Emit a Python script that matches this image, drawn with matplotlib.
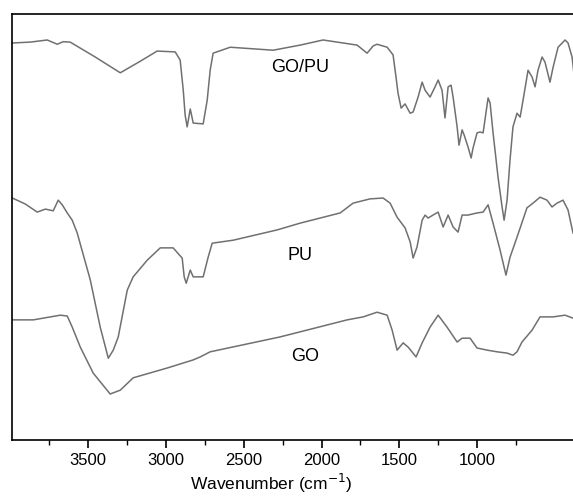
import matplotlib.pyplot as plt

plt.rcParams['font.family'] = ['Liberation Sans', 'DejaVu Sans']

# wavenumber (cm-1) and transmittance (a.u., offset)
gopu_wn = [3988, 3873, 3764, 3699, 3661, 3616, 3455, 3294, 3166, 3057, 2941, 2909,
           2889, 2877, 2864, 2844, 2825, 2761, 2735, 2716, 2697, 2587, 2311, 2137,
           1990, 1771, 1707, 1668, 1643, 1578, 1540, 1521, 1508, 1488, 1463, 1430,
           1411, 1379, 1353, 1334, 1302, 1270, 1250, 1225, 1206, 1186, 1167, 1154,
           1128, 1116, 1096, 1083, 1058, 1038, 1026, 1000, 981, 961, 929, 916, 897,
           865, 839, 826, 807, 788, 769, 743, 723, 704, 672, 646, 627, 608, 582,
           563, 531, 511, 479, 434, 415, 389, 376]
gopu_t = [93.2, 93.4, 93.9, 92.9, 93.5, 93.4, 89.9, 86.2, 88.9, 91.3, 91.1, 89.2,
          82.1, 76.3, 73.5, 77.7, 74.4, 74.2, 79.8, 86.8, 90.8, 92.2, 91.5, 92.7,
          93.9, 92.7, 90.8, 92.5, 92.9, 92.2, 90.4, 85.2, 81.4, 77.9, 78.9, 76.7,
          77.0, 80.5, 84.0, 82.1, 80.5, 82.9, 84.5, 82.1, 75.6, 82.9, 83.3, 80.5,
          73.5, 69.2, 72.8, 71.6, 68.8, 66.2, 68.5, 72.1, 72.3, 72.1, 80.3, 79.1, 72.1,
          61.7, 54.7, 51.6, 56.3, 65.7, 73.5, 76.7, 75.8, 79.8, 86.8, 85.2, 82.9, 86.8,
          89.9, 88.7, 84.0, 87.5, 92.2, 93.9, 93.2, 89.9, 85.7]

pu_wn = [3988, 3905, 3828, 3776, 3725, 3693, 3667, 3635, 3603, 3571, 3487, 3423,
         3371, 3339, 3307, 3249, 3211, 3121, 3037, 2954, 2896, 2883, 2870, 2844,
         2825, 2761, 2729, 2703, 2568, 2287, 2138, 1880, 1797, 1688, 1604, 1559,
         1514, 1463, 1430, 1411, 1386, 1353, 1334, 1315, 1283, 1250, 1218, 1186,
         1154, 1122, 1096, 1058, 1000, 961, 929, 897, 852, 814, 788, 743, 679, 640,
         595, 550, 518, 486, 447, 415, 383]
pu_t = [56.8, 55.4, 53.5, 54.2, 53.8, 56.3, 55.2, 53.3, 51.6, 48.6, 37.6, 26.5,
        19.2, 21.1, 24.2, 35.2, 38.3, 42.2, 45.1, 45.1, 42.7, 38.3, 36.8, 39.9,
        38.3, 38.3, 42.9, 46.2, 46.9, 49.3, 50.9, 53.3, 55.6, 56.6, 56.8, 55.6,
        52.3, 49.8, 46.5, 42.7, 45.3, 51.6, 52.8, 52.1, 52.8, 53.5, 50.0, 52.8,
        50.0, 48.8, 52.8, 52.8, 53.3, 53.5, 55.2, 50.9, 44.6, 38.7, 42.9, 47.6, 54.5, 55.6,
        57.0, 56.3, 54.7, 55.6, 56.3, 54.0, 48.6]

go_wn = [3988, 3853, 3680, 3635, 3603, 3551, 3468, 3359, 3294, 3211, 2992, 2825,
         2780, 2716, 2266, 1835, 1732, 1643, 1578, 1546, 1514, 1475, 1443, 1392,
         1353, 1302, 1250, 1193, 1128, 1096, 1045, 1000, 936, 871, 807, 769, 743,
         711, 646, 595, 511, 434, 383]
go_t = [28.2, 28.2, 29.3, 29.1, 26.5, 21.8, 15.7, 10.8, 11.7, 14.6, 16.9, 18.8,
        19.5, 20.7, 24.2, 28.2, 28.9, 30.0, 29.3, 25.8, 21.1, 22.8, 21.8, 19.5,
        22.8, 26.5, 29.3, 26.5, 23.0, 23.9, 23.9, 21.6, 21.1, 20.7, 20.4, 19.9, 20.7,
        23.0, 25.8, 28.9, 28.9, 29.3, 28.6]

labels = ['GO/PU', 'PU', 'GO']
label_x = [2137, 2137, 2105]
label_y = [87.5, 43.4, 19.5]

fig = plt.figure(figsize=(5.73, 5.0), dpi=100)
ax = fig.add_axes([0.021, 0.12, 0.979, 0.852])

for wn, t in [(gopu_wn, gopu_t), (pu_wn, pu_t), (go_wn, go_t)]:
    ax.plot(wn, t, color='#707070', lw=1.1)

for s, x, y in zip(labels, label_x, label_y):
    ax.text(x, y, s, fontsize=13, ha='center', va='center')

ax.set_xlim(3990, 383)
ax.set_ylim(0, 100)
ax.set_xticks([3500, 3000, 2500, 2000, 1500, 1000])
ax.set_xticks([3750, 3250, 2750, 2250, 1750, 1250, 750], minor=True)
ax.set_yticks([])
ax.spines['right'].set_visible(False)
for sp in ['left', 'top', 'bottom']:
    ax.spines[sp].set_linewidth(1.2)
ax.tick_params(axis='x', which='major', length=6, width=1.2, labelsize=12)
ax.tick_params(axis='x', which='minor', length=3.5, width=1.0)
ax.set_xlabel('Wavenumber (cm$^{-1}$)', fontsize=12.5)
ax.xaxis.set_label_coords(0.462, -0.075)

fig.savefig('out.png', dpi=100)
